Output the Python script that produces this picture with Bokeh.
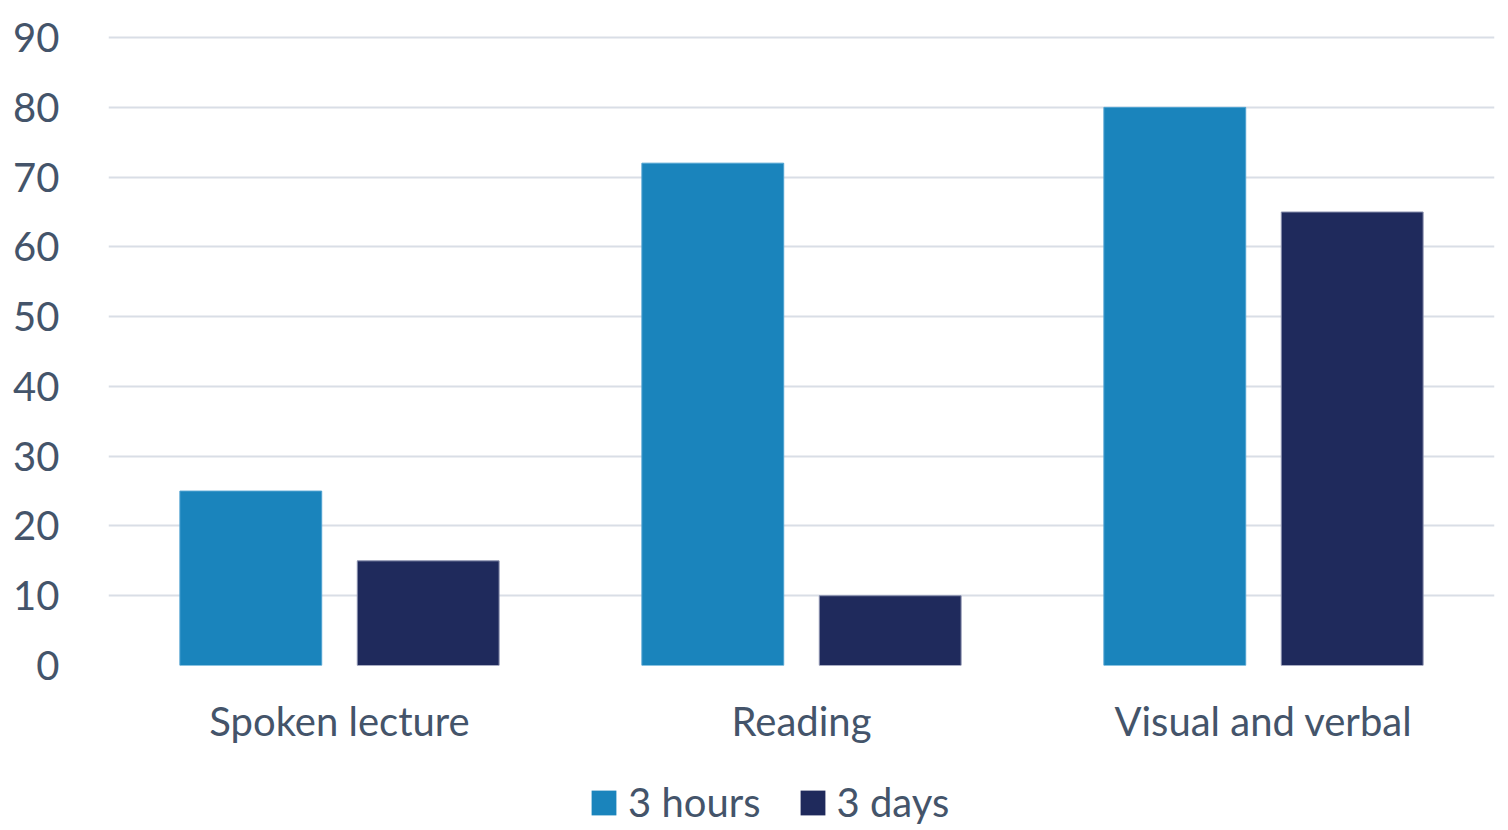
from bokeh.plotting import figure
from bokeh.models import FactorRange, Range1d, FixedTicker, Legend, LegendItem, ColumnDataSource
from bokeh.transform import dodge
from bokeh.layouts import column
from bokeh.embed import file_html
from bokeh.resources import INLINE

categories = ["Spoken lecture", "Reading", "Visual and verbal"]
hours3 = [25, 72, 80]
days3 = [15, 10, 65]
series_names = ["3 hours", "3 days"]
y_ticks = [0, 10, 20, 30, 40, 50, 60, 70, 80, 90]

C1 = "#1A84BC"
C2 = "#1F2A5C"
TXT = "#44546A"
FONT = "Lato"

src = ColumnDataSource(dict(cat=categories, h=hours3, d=days3))

p = figure(x_range=FactorRange(*categories), y_range=Range1d(0, 90.3),
           frame_width=1386, frame_height=630, output_backend="svg", toolbar_location=None,
           min_border_left=108, min_border_right=6, min_border_top=35, min_border_bottom=105)

r1 = p.vbar(x=dodge("cat", -0.192, range=p.x_range), top="h", width=0.307, source=src,
            fill_color=C1, line_color="#4FA3D1", line_width=1)
r2 = p.vbar(x=dodge("cat", 0.192, range=p.x_range), top="d", width=0.307, source=src,
            fill_color=C2, line_color="#8A90AE", line_width=1)

p.outline_line_color = None
p.background_fill_color = "white"
p.border_fill_color = "white"

p.xgrid.grid_line_color = None
p.ygrid.grid_line_color = "#D9DEE6"
p.ygrid.grid_line_width = 2
p.ygrid.level = "underlay"
p.yaxis.ticker = FixedTicker(ticks=y_ticks)

for ax in (p.xaxis, p.yaxis):
    ax.axis_line_color = None
    ax.major_tick_line_color = None
    ax.minor_tick_line_color = None
    ax.major_label_text_color = TXT
    ax.major_label_text_font = FONT
    ax.major_label_text_font_size = "40px"

p.yaxis.major_label_standoff = 43
p.xaxis.major_label_standoff = 25

# legend strip below the chart; its bars are hidden, only their legend swatches show
lg = figure(frame_width=1386, height=56, x_range=p.x_range, y_range=Range1d(-1001, -1000),
            output_backend="svg", toolbar_location=None, x_axis_type=None, y_axis_type=None,
            min_border_left=108, min_border_right=6, min_border_top=0, min_border_bottom=0)
lg.outline_line_color = None
lg.grid.grid_line_color = None
lg.background_fill_color = "white"
lg.border_fill_color = "white"
d1 = lg.vbar(x=dodge("cat", -0.192, range=lg.x_range), top="h", width=0.307, source=src,
             fill_color=C1, line_color=None, visible=False)
d2 = lg.vbar(x=dodge("cat", 0.192, range=lg.x_range), top="d", width=0.307, source=src,
             fill_color=C2, line_color=None, visible=False)

legend = Legend(items=[LegendItem(label=series_names[0], renderers=[d1]),
                       LegendItem(label=series_names[1], renderers=[d2])],
                orientation="horizontal", location=(480, 0),
                label_text_font=FONT, label_text_font_size="40px", label_text_color=TXT,
                glyph_width=31, glyph_height=31, spacing=36, label_standoff=9,
                inactive_fill_alpha=0,
                border_line_color=None, background_fill_alpha=0, margin=0, padding=0)
lg.add_layout(legend, "center")

layout = column(p, lg, spacing=0)
open("out.html", "w").write(file_html(layout, INLINE))
